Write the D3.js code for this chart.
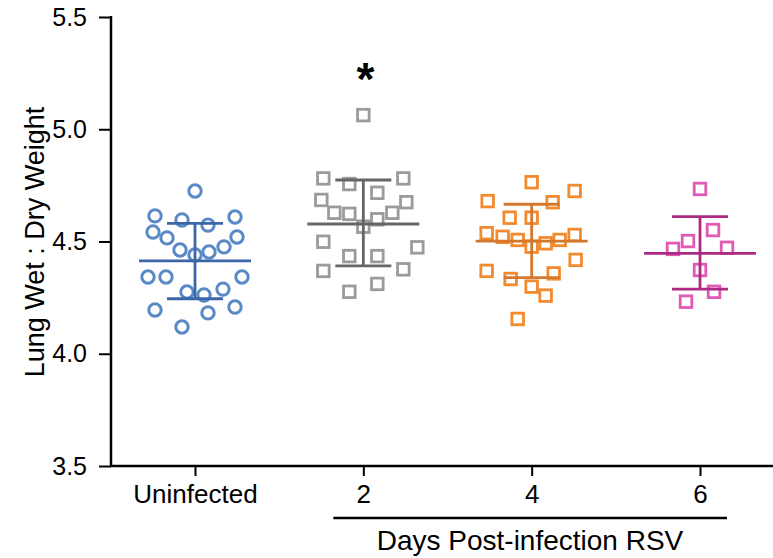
<!DOCTYPE html>
<html><head><meta charset="utf-8">
<script src="https://cdn.jsdelivr.net/npm/d3@7"></script>
<style>html,body{margin:0;padding:0;background:#fff;}svg{display:block;font-family:"Liberation Sans",Arial,sans-serif;}</style>
</head><body>
<svg id="chart" width="773" height="558"></svg>
<script>
const groups = ["Uninfected", "2", "4", "6"];
const yTicks = [3.5, 4.0, 4.5, 5.0, 5.5];
const values0 = [4.725,4.614,4.596,4.573,4.609,4.542,4.516,4.462,4.440,4.453,4.476,4.520,4.342,4.342,4.342,4.275,4.262,4.288,4.195,4.182,4.208,4.119];
const jitter0 = [0,-0.8,-0.26,0.26,0.8,-0.84,-0.56,-0.3,0,0.28,0.58,0.84,-0.94,-0.58,0.94,-0.16,0.18,0.56,-0.8,0.26,0.8,-0.26];
const values1 = [5.063,4.781,4.756,4.781,4.717,4.685,4.628,4.623,4.566,4.599,4.628,4.675,4.499,4.474,4.435,4.435,4.369,4.376,4.276,4.311];
const jitter1 = [0,-0.8,-0.28,0.8,0.28,-0.84,-0.58,-0.28,0,0.28,0.58,0.86,-0.8,1.08,-0.28,0.28,-0.8,0.8,-0.28,0.28];
const values2 = [4.764,4.680,4.725,4.675,4.606,4.606,4.537,4.521,4.507,4.477,4.492,4.507,4.529,4.418,4.369,4.333,4.299,4.358,4.259,4.155];
const jitter2 = [0,-0.88,0.86,0.42,-0.44,0,-0.9,-0.58,-0.28,0,0.28,0.56,0.86,0.88,-0.9,-0.42,0,0.44,0.28,-0.28];
const values3 = [4.734,4.551,4.502,4.467,4.472,4.373,4.276,4.232];
const jitter3 = [0,0.26,-0.24,-0.54,0.54,0,0.28,-0.28];
const means = [4.414, 4.578, 4.502, 4.447];
const upper = [4.581, 4.774, 4.666, 4.611];
const lower = [4.245, 4.391, 4.339, 4.288];

const series = [
  {v: values0, j: jitter0, shape: "circle", fill: "#5a8ac6", line: "#3b67a6"},
  {v: values1, j: jitter1, shape: "square", fill: "#9b9b9b", line: "#666666"},
  {v: values2, j: jitter2, shape: "square", fill: "#f28a2e", line: "#d3782c"},
  {v: values3, j: jitter3, shape: "square", fill: "#df5bb4", line: "#ad2a83"}
];

const svg = d3.select("#chart");
const y = d3.scaleLinear().domain([3.5, 5.5]).range([466, 17]);
const x = d3.scalePoint().domain(groups).range([195, 700]);
const jx = d3.scaleLinear().domain([-1, 1]).range([-50, 50]);
const FONT = "Liberation Sans, Arial, sans-serif";

// Y axis
const yAxis = svg.append("g").attr("transform", "translate(111,0)")
  .call(d3.axisLeft(y).tickValues(yTicks).tickFormat(d3.format(".1f")).tickSize(12).tickPadding(12));
yAxis.select(".domain").attr("stroke", "#000").attr("stroke-width", 2.5).attr("d", "M0,16V466");
yAxis.selectAll(".tick line").attr("stroke", "#000").attr("stroke-width", 2);
yAxis.selectAll(".tick text").attr("font-size", 25).attr("fill", "#000").attr("font-family", FONT);

// X axis
const xAxis = svg.append("g").attr("transform", "translate(0,466)")
  .call(d3.axisBottom(x).tickSize(10).tickPadding(9));
xAxis.select(".domain").attr("stroke", "#000").attr("stroke-width", 2.5).attr("d", "M110,0H773");
xAxis.selectAll(".tick line").attr("stroke", "#000").attr("stroke-width", 2);
xAxis.selectAll(".tick text").attr("font-size", 26).attr("fill", "#000").attr("font-family", FONT);

// Y title
svg.append("text").attr("transform", "translate(44,242) rotate(-90)")
  .attr("text-anchor", "middle").attr("font-size", 27).attr("fill", "#000")
  .text("Lung Wet : Dry Weight");

// Bracket and group title
svg.append("line").attr("x1", x("2") - 30).attr("x2", x("6") + 27)
  .attr("y1", 518).attr("y2", 518).attr("stroke", "#000").attr("stroke-width", 2.5);
svg.append("text").attr("x", 530).attr("y", 550)
  .attr("text-anchor", "middle").attr("font-size", 28).attr("fill", "#000")
  .text("Days Post-infection RSV");

// Asterisk
svg.append("text").attr("x", x("2") + 2).attr("y", 95).attr("text-anchor", "middle")
  .attr("font-size", 46).attr("font-weight", "bold").attr("fill", "#000").text("*");

// Points
series.forEach((s, gi) => {
  const cx = x(groups[gi]);
  const g = svg.append("g");
  const pts = s.v.map((v, i) => ({v, j: s.j[i]}));
  if (s.shape === "circle") {
    g.selectAll("circle").data(pts).join("circle")
      .attr("cx", d => cx + jx(d.j)).attr("cy", d => y(d.v)).attr("r", 6.2)
      .attr("fill", "#fff").attr("stroke", s.fill).attr("stroke-width", 3);
  } else {
    g.selectAll("rect").data(pts).join("rect")
      .attr("x", d => cx + jx(d.j) - 5.8).attr("y", d => y(d.v) - 5.8)
      .attr("width", 11.6).attr("height", 11.6)
      .attr("fill", "#fff").attr("stroke", s.fill).attr("stroke-width", 2.8);
  }
  const lg = svg.append("g").attr("stroke", s.line).attr("stroke-width", 2.8).attr("fill", "none");
  lg.append("line").attr("x1", cx - 56).attr("x2", cx + 56).attr("y1", y(means[gi])).attr("y2", y(means[gi]));
  lg.append("line").attr("x1", cx).attr("x2", cx).attr("y1", y(upper[gi])).attr("y2", y(lower[gi]));
  lg.append("line").attr("x1", cx - 28).attr("x2", cx + 28).attr("y1", y(upper[gi])).attr("y2", y(upper[gi]));
  lg.append("line").attr("x1", cx - 28).attr("x2", cx + 28).attr("y1", y(lower[gi])).attr("y2", y(lower[gi]));
});
</script>
</body></html>
